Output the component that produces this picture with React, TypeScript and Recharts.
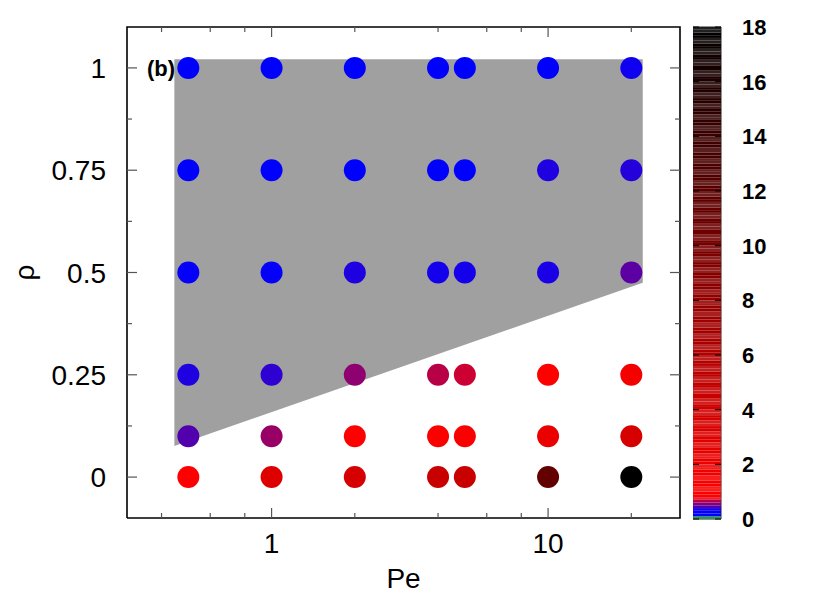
import { ComposedChart, Scatter, Area, XAxis, YAxis, BarChart, Bar, ReferenceArea } from 'recharts';

const FONT = '"Liberation Sans", Arial, Helvetica, sans-serif';

const peValues = [0.5, 1, 2, 4, 5, 10, 20];
const rhoValues = [0, 0.1, 0.25, 0.5, 0.75, 1];

// colour value of each point, one array per rho row (Pe order as above)
const zRho000 = [0.9, 3.0, 3.5, 4.5, 4.5, 11.3, 18];
const zRho010 = [0.46, 0.6, 0.85, 1.0, 1.14, 2.15, 3.5];
const zRho025 = [0.36, 0.39, 0.58, 0.66, 0.7, 0.85, 1.47];
const zRho050 = [0.31, 0.31, 0.36, 0.34, 0.34, 0.35, 0.48];
const zRho075 = [0.2, 0.2, 0.2, 0.2, 0.2, 0.36, 0.37];
const zRho100 = [0.2, 0.2, 0.2, 0.2, 0.2, 0.2, 0.33];
const zRows = [zRho000, zRho010, zRho025, zRho050, zRho075, zRho100];

// grey region: Pe at left/right edge, lower and upper rho bound
const regionPe = [0.445, 22];
const regionLow = [0.076, 0.475];
const regionHigh = [1.021, 1.021];

const xDomain = [0.3, 30];
const yDomain = [-0.1, 1.1];
const xTicks = [0.4, 0.6, 0.8, 1, 2, 4, 6, 8, 10, 20];
const xLabels = [1, 10];
const yTicks = [0, 0.125, 0.25, 0.375, 0.5, 0.625, 0.75, 0.875, 1];
const yLabels = [0, 0.25, 0.5, 0.75, 1];
const cbTicks = [0, 2, 4, 6, 8, 10, 12, 14, 16, 18];

const points = rhoValues.flatMap((rho, i) =>
  peValues.map((pe, j) => ({ pe, rho, z: zRows[i][j] }))
);
const areaData = regionPe.map((pe, i) => ({ pe, band: [regionLow[i], regionHigh[i]] }));

// plot frame corners and inward tick marks on all four sides
const frame = [
  { pe: xDomain[0], rho: yDomain[0] },
  { pe: xDomain[1], rho: yDomain[0] },
  { pe: xDomain[1], rho: yDomain[1] },
  { pe: xDomain[0], rho: yDomain[1] },
  { pe: xDomain[0], rho: yDomain[0] },
];
const xTickMarks = xTicks.flatMap((v) => {
  const len = xLabels.includes(v) ? 10 : 5;
  return [
    { pe: v, rho: yDomain[0], dx: 0, dy: -len },
    { pe: v, rho: yDomain[1], dx: 0, dy: len },
  ];
});
const yTickMarks = yTicks.flatMap((v) => {
  const len = yLabels.includes(v) ? 10 : 5;
  return [
    { pe: xDomain[0], rho: v, dx: len, dy: 0 },
    { pe: xDomain[1], rho: v, dx: -len, dy: 0 },
  ];
});
const tickMarks = [...xTickMarks, ...yTickMarks];

function palette(z: number): number[] {
  if (z < 0.12) return [40, 150, 80];
  if (z < 0.3) return [0, 0, 255];
  if (z < 0.8) {
    const t = (z - 0.3) / 0.5;
    return [255 * t, 0, 255 * (1 - t)];
  }
  const r = (255 * Math.max(0, 18 - z)) / 17.2;
  return [r, 0, 0];
}
const rgb = (c: number[]) => `rgb(${c.map((v) => Math.round(v)).join(',')})`;

// colour bar, built as a stack of thin slices (alternate bands a bit lighter)
const cbStep = 0.1;
const cbSlices = Array.from({ length: 180 }, (_, i) => {
  const base = palette((i + 0.5) * cbStep);
  const light = Math.floor(i / 2) % 2 === 1 && i > 6;
  const c = light ? base.map((v) => v + (255 - v) * 0.12) : base;
  return { key: `s${i}`, color: rgb(c) };
});
const cbRow: Record<string, number | string> = { name: 'cb' };
cbSlices.forEach((s) => (cbRow[s.key] = cbStep));

const tickStroke = '#555';

function BottomLabel(props: any) {
  const { x, y, payload } = props;
  if (!xLabels.includes(payload.value)) return <g />;
  return (
    <text x={x} y={y + 35} textAnchor="middle" fontSize={28} fontFamily={FONT} fill="#000">
      {payload.value}
    </text>
  );
}

function LeftLabel(props: any) {
  const { x, y, payload } = props;
  if (!yLabels.includes(payload.value)) return <g />;
  return (
    <text x={x - 21} y={y + 10} textAnchor="end" fontSize={28} fontFamily={FONT} fill="#000">
      {String(payload.value)}
    </text>
  );
}

function CbTick(props: any) {
  const { x, y, payload } = props;
  return (
    <g>
      <line x1={x - 28} x2={x - 22} y1={y} y2={y} stroke="#000" />
      <line x1={x - 6} x2={x} y1={y} y2={y} stroke="#000" />
      <text x={x + 21} y={y + 8} fontSize={22} fontWeight="bold" fontFamily={FONT} fill="#000">
        {payload.value}
      </text>
    </g>
  );
}

export default function App() {
  return (
    <div style={{ position: 'absolute', left: 0, top: 0, width: 830, height: 593, background: '#fff' }}>
      <div style={{ position: 'absolute', left: 0, top: 0 }}>
        <ComposedChart width={700} height={593} data={areaData} margin={{ top: 27, right: 20, bottom: 0, left: 0 }}>
          <XAxis
            dataKey="pe"
            type="number"
            scale="log"
            domain={xDomain}
            ticks={xTicks}
            interval={0}
            height={75}
            tickSize={0}
            tickMargin={0}
            tickLine={false}
            axisLine={false}
            tick={<BottomLabel />}
            label={{
              content: (p: any) => (
                <text
                  x={p.viewBox.x + p.viewBox.width / 2}
                  y={p.viewBox.y + 70}
                  textAnchor="middle"
                  fontSize={28}
                  fontFamily={FONT}
                  fill="#000"
                >
                  Pe
                </text>
              ),
            }}
          />
          <YAxis
            type="number"
            domain={yDomain}
            ticks={yTicks}
            interval={0}
            width={127}
            tickSize={0}
            tickMargin={0}
            tickLine={false}
            axisLine={false}
            tick={<LeftLabel />}
            label={{
              content: (p: any) => {
                const cx = p.viewBox.x + 34;
                const cy = p.viewBox.y + p.viewBox.height / 2;
                return (
                  <text
                    x={cx}
                    y={cy}
                    transform={`rotate(-90, ${cx}, ${cy})`}
                    textAnchor="middle"
                    fontSize={28}
                    fontFamily={FONT}
                    fill="#000"
                  >
                    ρ
                  </text>
                );
              },
            }}
          />
          <Area
            dataKey="band"
            type="linear"
            fill="#a0a0a0"
            fillOpacity={1}
            stroke="none"
            isAnimationActive={false}
          />
          <Scatter
            data={frame}
            dataKey="rho"
            isAnimationActive={false}
            line={{ stroke: '#000', strokeWidth: 1.6 }}
            shape={() => <g />}
          />
          <Scatter
            data={tickMarks}
            dataKey="rho"
            isAnimationActive={false}
            shape={(p: any) => (
              <line
                x1={p.cx}
                y1={p.cy}
                x2={p.cx + p.payload.dx}
                y2={p.cy + p.payload.dy}
                stroke={tickStroke}
                strokeWidth={1.2}
              />
            )}
          />
          <Scatter
            data={points}
            dataKey="rho"
            isAnimationActive={false}
            shape={(p: any) => <circle cx={p.cx} cy={p.cy} r={11} fill={rgb(palette(p.payload.z))} />}
          />
        </ComposedChart>
      </div>
      <div
        style={{
          position: 'absolute',
          left: 110,
          width: 65,
          top: 57,
          textAlign: 'right',
          fontFamily: FONT,
          fontWeight: 'bold',
          fontSize: 22,
          lineHeight: '24px',
        }}
      >
        (b)
      </div>
      <div style={{ position: 'absolute', left: 693, top: 0 }}>
        <BarChart
          width={137}
          height={593}
          data={[cbRow]}
          margin={{ top: 27, right: 0, bottom: 74, left: 0 }}
          barCategoryGap={0}
        >
          <XAxis dataKey="name" hide />
          <YAxis
            orientation="right"
            type="number"
            domain={[0, 18]}
            ticks={cbTicks}
            interval={0}
            width={109}
            tickSize={0}
            tickMargin={0}
            tickLine={false}
            axisLine={false}
            tick={<CbTick />}
          />
          {cbSlices.map((s) => (
            <Bar key={s.key} dataKey={s.key} stackId="cb" fill={s.color} isAnimationActive={false} />
          ))}
          <ReferenceArea y1={0} y2={18} fill="none" stroke="#222" strokeWidth={1} />
        </BarChart>
      </div>
    </div>
  );
}
